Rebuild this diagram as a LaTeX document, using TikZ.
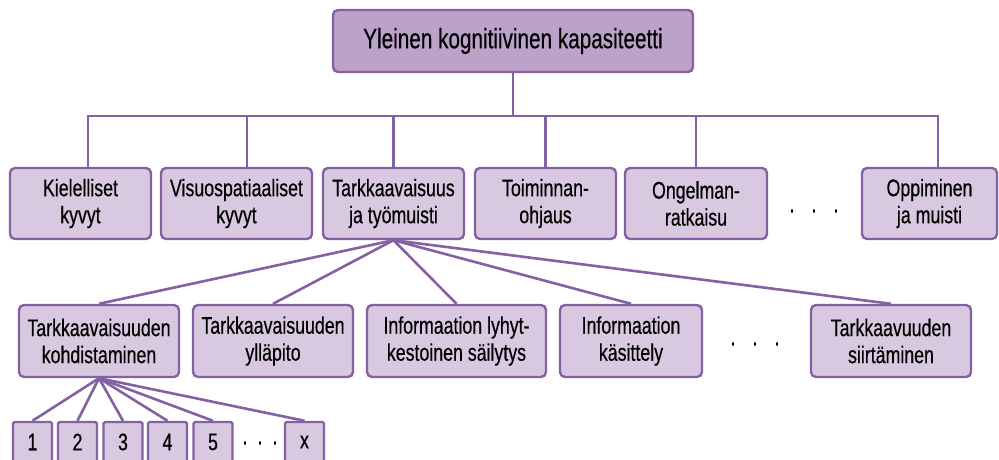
\documentclass[tikz,border=0pt]{standalone}
\usepackage{fontspec}
\setmainfont{Liberation Sans}[FakeStretch=0.74, FakeBold=0.4]
\usepackage{tikz}
\definecolor{dark}{RGB}{131, 97, 163}
\definecolor{mid}{RGB}{188, 161, 200}
\definecolor{light}{RGB}{216, 201, 224}

\tikzset{
  box/.style={draw=dark, line width=2.4pt, rounded corners=5pt, fill=light,
    align=center, inner sep=2pt, font=\fontsize{24}{27}\selectfont},
  rowtwo/.style={box, minimum height=71pt},
  rowthree/.style={box, minimum height=72pt},
  num/.style={box, rounded corners=1.5pt, minimum width=39pt, minimum height=40pt},
  more/.style={inner sep=0pt, font=\fontsize{24}{27}\selectfont},
  link/.style={draw=dark, line width=2.6pt}
}

\begin{document}
\begin{tikzpicture}[x=1pt, y=-1pt]
  \useasboundingbox (0, 0) rectangle (999, 460);
  \clip (0, 0) rectangle (999, 460);

  \node[box, fill=mid, font=\fontsize{28}{30}\selectfont, minimum width=360pt, minimum height=62pt]
    (top) at (513, 41) {Yleinen kognitiivinen kapasiteetti};

  % second level
  \node[rowtwo, minimum width=141pt] (kiel) at (80.5, 203.5) {Kielelliset\\kyvyt};
  \node[rowtwo, minimum width=151pt] (visu) at (236.5, 203.5) {Visuospatiaaliset\\kyvyt};
  \node[rowtwo, minimum width=141pt] (tark) at (393.5, 203.5) {Tarkkaavaisuus\\ja työmuisti};
  \node[rowtwo, minimum width=141pt] (toim) at (545.5, 203.5) {Toiminnan-\\ohjaus};
  \node[rowtwo, minimum width=142pt] (ongel) at (696, 203.5) {Ongelman-\\ratkaisu};
  \node[more] (more1) at (814, 211) {.\hspace{17pt}.\hspace{17pt}.};
  \node[rowtwo, minimum width=135pt] (opp) at (929.5, 203.5) {Oppiminen\\ja muisti};

  \coordinate (bus) at (0, 116);
  \draw[link] (top.south) -- (top.south |- bus);
  \draw[link] ([xshift=7.5pt]kiel.north) |- ([xshift=8.5pt]bus -| opp.north) -- ([xshift=8.5pt]opp.north);
  \draw[link] ([xshift=10.5pt]visu.north) -- ([xshift=10.5pt]visu.north |- bus);
  \foreach \n in {tark, toim, ongel}
    \draw[link] (\n.north) -- (\n.north |- bus);

  % third level
  \node[rowthree, minimum width=160pt] (kohd) at (99, 341) {Tarkkaavaisuuden\\kohdistaminen};
  \node[rowthree, minimum width=160pt] (yll) at (273, 341) {Tarkkaavaisuuden\\ylläpito};
  \node[rowthree, minimum width=179pt] (lyh) at (456.5, 341) {Informaation lyhyt-\\kestoinen säilytys};
  \node[rowthree, minimum width=142pt] (kas) at (631, 341) {Informaation\\käsittely};
  \node[more] (more2) at (755, 344) {.\hspace{17pt}.\hspace{17pt}.};
  \node[rowthree, minimum width=160pt] (siir) at (891, 341) {Tarkkaavuuden\\siirtäminen};

  \foreach \n in {kohd, yll, lyh, kas, siir}
    \draw[link] (tark.south) -- (\n.north);

  % fourth level
  \node[num] (n1) at (32.5, 442) {1};
  \node[num] (n2) at (77.5, 442) {2};
  \node[num] (n3) at (123, 442) {3};
  \node[num] (n4) at (167.5, 442) {4};
  \node[num] (n5) at (213, 442) {5};
  \node[more] (more3) at (260, 443) {.\hspace{10pt}.\hspace{10pt}.};
  \node[num] (nx) at (304.5, 442) {x};

  \foreach \n in {n1, n2, n3, n4, n5, nx}
    \draw[link] (kohd.south) -- (\n.north);
\end{tikzpicture}
\end{document}
